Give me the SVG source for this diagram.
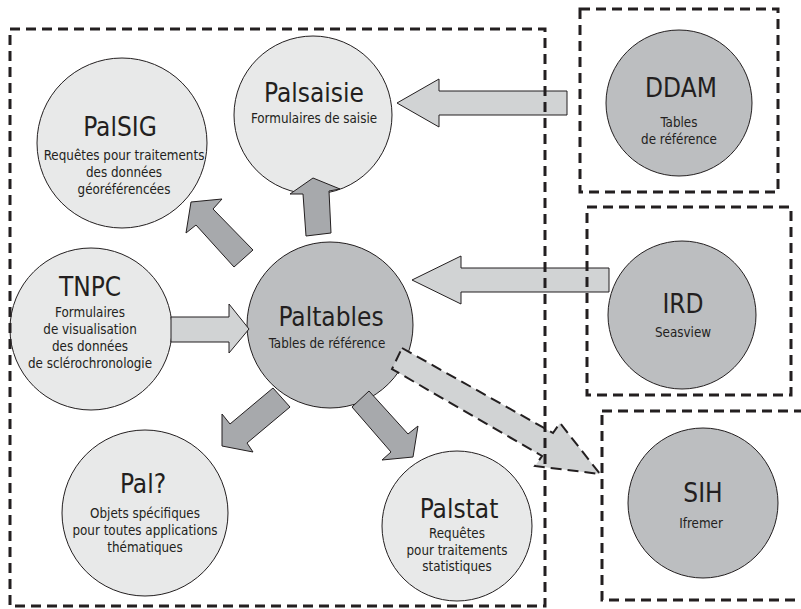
<svg xmlns="http://www.w3.org/2000/svg" width="801" height="609" viewBox="0 0 801 609">
<style>
text{font-family:"DejaVu Sans Condensed","DejaVu Sans","Liberation Sans",sans-serif;font-stretch:condensed;fill:#231f20;text-anchor:middle}
.t{font-size:26px}
.s{font-size:13.3px}
.lc{fill:#e8e9e9;stroke:#231f20;stroke-width:1}
.dc{fill:#bcbec0;stroke:#231f20;stroke-width:1}
.la{fill:#d1d3d4;stroke:#231f20;stroke-width:1}
.da{fill:#a7a9ac;stroke:#231f20;stroke-width:1}
.dash{fill:none;stroke:#231f20;stroke-width:3;stroke-dasharray:10 6}
.darr{fill:#d1d3d4;stroke:#231f20;stroke-width:2;stroke-dasharray:11 6}
</style>
<rect width="801" height="609" fill="#ffffff"/>
<g id="PalSIG">
<circle class="lc" cx="122" cy="143" r="85"/>
<text class="t" x="120" y="136">PalSIG</text>
<text class="s" x="124" y="160">Requêtes pour traitements</text>
<text class="s" x="124" y="177">des données</text>
<text class="s" x="124" y="194">géoréférencées</text>
</g>
<g id="Palsaisie">
<circle class="lc" cx="313" cy="115" r="79"/>
<text class="t" x="314" y="102">Palsaisie</text>
<text class="s" x="314" y="123">Formulaires de saisie</text>
</g>
<g id="DDAM">
<circle class="dc" cx="679" cy="103" r="73"/>
<text class="t" x="681" y="97">DDAM</text>
<text class="s" x="679" y="127">Tables</text>
<text class="s" x="679" y="144">de référence</text>
</g>
<g id="TNPC">
<circle class="lc" cx="91" cy="329" r="81"/>
<text class="t" x="90" y="296">TNPC</text>
<text class="s" x="90" y="317">Formulaires</text>
<text class="s" x="90" y="334">de visualisation</text>
<text class="s" x="90" y="351">des données</text>
<text class="s" x="90" y="368">de sclérochronologie</text>
</g>
<g id="Paltables">
<circle class="dc" cx="330" cy="325" r="83"/>
<text class="t" x="331" y="326">Paltables</text>
<text class="s" x="327" y="348">Tables de référence</text>
</g>
<g id="IRD">
<circle class="dc" cx="682" cy="315" r="74"/>
<text class="t" x="683" y="313">IRD</text>
<text class="s" x="683" y="337">Seasview</text>
</g>
<g id="Pal_">
<circle class="lc" cx="145" cy="513" r="83"/>
<text class="t" x="143" y="493">Pal?</text>
<text class="s" x="145" y="518">Objets spécifiques</text>
<text class="s" x="145" y="535">pour toutes applications</text>
<text class="s" x="145" y="552">thématiques</text>
</g>
<g id="Palstat">
<circle class="lc" cx="457" cy="526" r="75"/>
<text class="t" x="459" y="518">Palstat</text>
<text class="s" x="457" y="538">Requêtes</text>
<text class="s" x="457" y="555">pour traitements</text>
<text class="s" x="457" y="571">statistiques</text>
</g>
<g id="SIH">
<circle class="dc" cx="703" cy="503" r="75"/>
<text class="t" x="703" y="502">SIH</text>
<text class="s" x="701" y="528">Ifremer</text>
</g>
<g id="connectors">
<polygon class="la" points="567,91 439,91 439,79 397,103 439,127 439,115 567,115"/>
<polygon class="la" points="609,268 461,268 461,256 412,280 461,304 461,292 609,292"/>
<polygon class="la" points="171,317 229,317 229,304 249,329 229,353 229,342 171,342"/>
<polygon class="da" points="313,178 340,189 329,191 331,233 306,236 303,194 290,194"/>
<polygon class="da" points="191,202 222,199 213,209 253,250 234,267 196,225 186,233"/>
<polygon class="da" points="273,388 290,407 247,443 253,452 222,446 222,414 230,424"/>
<polygon class="da" points="352,407 369,391 408,434 418,426 413,457 382,460 391,452"/>
<polygon class="darr" points="402,348 553,433 560,423 600,474 535,466 542,456 392,369"/>
</g>
<g id="boxes">
<rect class="dash" x="10" y="29" width="535" height="577"/>
<rect class="dash" x="580" y="9" width="198" height="183"/>
<rect class="dash" x="587" y="207" width="204" height="188"/>
<rect class="dash" x="602" y="411" width="210" height="189"/>
</g>
</svg>
